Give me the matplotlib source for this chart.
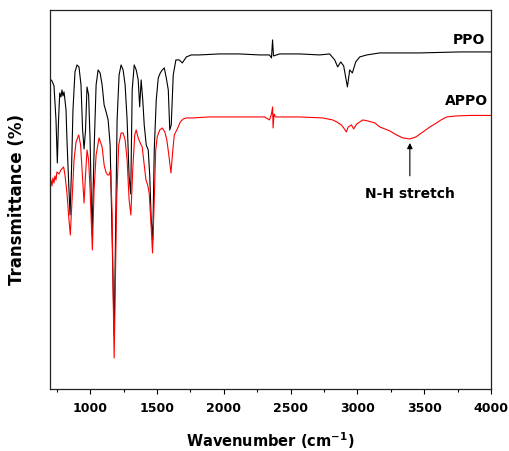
import matplotlib
matplotlib.use("Agg")
import matplotlib.pyplot as plt
from matplotlib.ticker import MultipleLocator

# FTIR spectra (transmittance in arbitrary units)
ppo_wn = [700, 715, 730, 745, 755, 764, 773, 782, 790, 797, 805, 812, 820, 827, 839,
          850, 861, 872, 887, 902, 917, 932, 944, 955, 966, 977, 989, 1000, 1015, 1030,
          1045, 1060, 1075, 1090, 1105, 1120, 1135, 1150, 1165, 1180, 1191, 1202, 1217,
          1232, 1247, 1262, 1277, 1292, 1304, 1315, 1330, 1345, 1360, 1371, 1382, 1394,
          1405, 1420, 1435, 1446, 1457, 1469, 1480, 1495, 1510, 1525, 1540, 1555, 1570,
          1585, 1596, 1607, 1622, 1642, 1667, 1690, 1720, 1757, 1817, 1967, 2117, 2267,
          2342, 2357, 2365, 2372, 2417, 2567, 2717, 2792, 2830, 2852, 2875, 2897, 2925,
          2942, 2962, 2987, 3017, 3070, 3167, 3467, 3767, 4000]
ppo_t = [310, 308, 303, 269, 226, 269, 296, 292, 299, 293, 297, 289, 279, 249, 209,
         174, 219, 279, 317, 324, 322, 304, 259, 240, 259, 302, 294, 249, 154, 239,
         304, 319, 316, 304, 284, 277, 269, 244, 150, 54, 159, 269, 314,
         324, 319, 304, 269, 212, 195, 299, 324, 319, 309, 282, 309, 289,
         264, 244, 239, 214, 170, 149, 239, 289, 311, 316, 319, 321, 311,
         299, 259, 264, 314, 329, 329, 326, 332, 334, 334, 335, 335, 334,
         334, 331, 349, 333, 335, 335, 334, 335, 329, 322, 327, 323, 302,
         319, 316, 327, 332, 334, 336, 336, 337, 337]

appo_wn = [700, 707, 715, 722, 730, 737, 745, 752, 767, 782, 802, 812, 827, 839, 852,
           865, 880, 895, 915, 929, 940, 955, 966, 977, 989, 1000, 1017, 1030, 1045,
           1067, 1090, 1105, 1118, 1131, 1142, 1154, 1165, 1172, 1180, 1187, 1199, 1214,
           1232, 1247, 1262, 1277, 1292, 1305, 1319, 1334, 1345, 1360, 1375, 1390, 1405,
           1418, 1431, 1442, 1454, 1467, 1480, 1491, 1502, 1521, 1540, 1559, 1574, 1589,
           1605, 1619, 1630, 1645, 1656, 1675, 1697, 1720, 1765, 1892, 2042, 2192, 2305,
           2342, 2357, 2365, 2369, 2376, 2387, 2567, 2740, 2815, 2845, 2880, 2897, 2917,
           2931, 2955, 2972, 2995, 3040, 3077, 3130, 3167, 3242, 3292, 3340, 3392, 3437,
           3490, 3542, 3592, 3625, 3667, 3742, 3842, 4000]
appo_t = [204, 209, 203, 211, 206, 213, 209, 217, 215, 219, 222, 214, 196, 174, 154,
          189, 229, 247, 254, 244, 219, 186, 214, 239, 229, 199, 139, 199, 234,
          251, 242, 224, 217, 214, 214, 219, 174, 99, 31, 89, 189, 244,
          256, 256, 249, 229, 189, 174, 219, 254, 259, 251, 246, 242, 224,
          209, 204, 196, 169, 136, 189, 239, 252, 259, 261, 257, 249, 234,
          216, 239, 254, 258, 261, 267, 270, 271, 271, 272, 272, 272, 272,
          269, 275, 282, 261, 275, 272, 272, 271, 269, 267, 264, 261, 257,
          262, 264, 260, 265, 269, 268, 266, 262, 258, 254, 251, 250, 252,
          257, 262, 266, 269, 272, 273, 273.5, 273.5]

fig = plt.figure(figsize=(5.10, 4.51), dpi=100)
ax = fig.add_axes([0.098, 0.1375, 0.865, 0.8405])

ax.plot(ppo_wn, ppo_t, color="black", lw=0.8)
ax.plot(appo_wn, appo_t, color="red", lw=0.8)

ax.set_xlim(700, 4000)
ax.set_ylim(0, 379)
ax.xaxis.set_major_locator(MultipleLocator(500))
ax.xaxis.set_minor_locator(MultipleLocator(250))
ax.set_yticks([])
ax.tick_params(axis="x", which="major", direction="out", length=3.6, width=0.8, pad=6)
ax.tick_params(axis="x", which="minor", direction="out", length=2.5, width=0.8)
for lab in ax.get_xticklabels():
    lab.set_fontweight("bold")
    lab.set_fontsize(9)
for sp in ax.spines.values():
    sp.set_linewidth(0.9)
    sp.set_color("#222222")

ax.set_xlabel("Wavenumber (cm$^{\\mathbf{-1}}$)", fontsize=10.5, fontweight="bold", labelpad=11)
ax.set_ylabel("Transmittance (%)", fontsize=12, fontweight="bold", labelpad=17)

ax.text(3955, 349, "PPO", ha="right", va="center", fontsize=10, fontweight="bold")
ax.text(3977, 288, "APPO", ha="right", va="center", fontsize=10, fontweight="bold")
ax.annotate("N-H stretch", xy=(3392, 246), xytext=(3392, 195),
            ha="center", va="center", fontsize=10, fontweight="bold",
            arrowprops=dict(arrowstyle="-|>", color="black", lw=0.8,
                            mutation_scale=8, shrinkA=6, shrinkB=0))

fig.savefig("out.png", dpi=100)
